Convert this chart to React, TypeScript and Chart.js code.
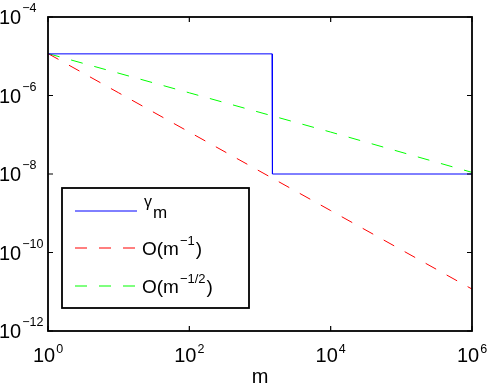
import React, { useEffect, useRef } from "react";
import { Chart, registerables } from "chart.js";

Chart.register(...registerables);

// ---- data ----
const gammaX = [1, 1480, 1500, 1e6];
const gammaY = [1.15e-5, 1.15e-5, 1e-8, 1e-8];
const invX = [1, 10, 100, 1000, 1e4, 1e5, 1e6];
const invY = [1.17e-5, 1.17e-6, 1.17e-7, 1.17e-8, 1.17e-9, 1.17e-10, 1.17e-11];
const invSqrtX = [1, 100, 1e4, 1e6];
const invSqrtY = [1.17e-5, 1.17e-6, 1.17e-7, 1.1e-8];

const xTickExps = [0, 2, 4, 6];
const yTickExps = [-4, -6, -8, -10, -12];
const xLabel = "m";

const FONT = "'Liberation Sans', Arial, Helvetica, sans-serif";

function pts(xs: number[], ys: number[]) {
  return xs.map((x, i) => ({ x, y: ys[i] }));
}

function supText(e: number) {
  return e < 0 ? "\u2212" + String(-e) : String(e);
}

const overlay = {
  id: "matlabOverlay",
  afterDraw(chart: any) {
    const ctx = chart.ctx as CanvasRenderingContext2D;
    const a = chart.chartArea;
    const xs = chart.scales.x;
    const ys = chart.scales.y;
    ctx.save();
    ctx.strokeStyle = "#000";
    ctx.fillStyle = "#000";
    // box
    ctx.lineWidth = 1.8;
    ctx.strokeRect(a.left, a.top, a.right - a.left, a.bottom - a.top);
    // ticks
    ctx.lineWidth = 1.2;
    const tl = 5;
    ctx.beginPath();
    xTickExps.forEach((e) => {
      const px = xs.getPixelForValue(Math.pow(10, e));
      ctx.moveTo(px, a.bottom);
      ctx.lineTo(px, a.bottom - tl);
      ctx.moveTo(px, a.top);
      ctx.lineTo(px, a.top + tl);
    });
    yTickExps.forEach((e) => {
      const py = ys.getPixelForValue(Math.pow(10, e));
      ctx.moveTo(a.left, py);
      ctx.lineTo(a.left + tl, py);
      ctx.moveTo(a.right, py);
      ctx.lineTo(a.right - tl, py);
    });
    ctx.stroke();

    // tick labels
    const baseFont = `20px ${FONT}`;
    const supFont = `12.5px ${FONT}`;
    ctx.textBaseline = "alphabetic";
    ctx.textAlign = "left";
    xTickExps.forEach((e) => {
      const px = xs.getPixelForValue(Math.pow(10, e));
      ctx.font = baseFont;
      const w1 = ctx.measureText("10").width;
      ctx.font = supFont;
      const w2 = ctx.measureText(supText(e)).width;
      const x0 = px - (w1 + 1 + w2) / 2;
      ctx.font = baseFont;
      ctx.fillText("10", x0, a.bottom + 31);
      ctx.font = supFont;
      ctx.fillText(supText(e), x0 + w1 + 1, a.bottom + 22);
    });
    yTickExps.forEach((e) => {
      const py = ys.getPixelForValue(Math.pow(10, e));
      ctx.font = baseFont;
      const w1 = ctx.measureText("10").width;
      ctx.fillText("10", -1, py + 7);
      ctx.font = supFont;
      ctx.fillText(supText(e), -1 + w1 + 1, py - 5);
    });

    // x label
    ctx.font = baseFont;
    ctx.textAlign = "center";
    ctx.fillText(xLabel, (a.left + a.right) / 2, a.bottom + 52);

    // legend
    const lx = 62, ly = 188, lw = 187, lh = 120;
    ctx.fillStyle = "#fff";
    ctx.fillRect(lx, ly, lw, lh);
    ctx.strokeStyle = "#000";
    ctx.lineWidth = 1.8;
    ctx.strokeRect(lx, ly, lw, lh);
    const items = chart.data.datasets;
    const rows = [211, 248, 286];
    ctx.textAlign = "left";
    items.forEach((ds: any, i: number) => {
      const y = rows[i];
      ctx.strokeStyle = ds.borderColor;
      ctx.lineWidth = 1;
      ctx.setLineDash(ds.borderDash || []);
      ctx.beginPath();
      ctx.moveTo(75, y);
      ctx.lineTo(137, y);
      ctx.stroke();
      ctx.setLineDash([]);
    });
    ctx.fillStyle = "#000";
    // gamma_m
    ctx.font = `16px ${FONT}`;
    ctx.fillText("\u03b3", 144, 207);
    const gw = ctx.measureText("\u03b3").width;
    ctx.font = `17px ${FONT}`;
    ctx.fillText("m", 144 + gw + 1, 218);
    // O(m^-1) and O(m^-1/2)
    const drawO = (y: number, sup: string) => {
      ctx.font = `19px ${FONT}`;
      const a1 = "O(m";
      ctx.fillText(a1, 142, y + 7);
      const w = ctx.measureText(a1).width;
      ctx.font = `13px ${FONT}`;
      ctx.fillText(sup, 142 + w + 1, y - 3);
      const ws = ctx.measureText(sup).width;
      ctx.font = `19px ${FONT}`;
      ctx.fillText(")", 142 + w + 2 + ws, y + 7);
    };
    drawO(rows[1], "\u22121");
    drawO(rows[2], "\u22121/2");
    ctx.restore();
  },
};

export default function App() {
  const ref = useRef<HTMLCanvasElement>(null);
  useEffect(() => {
    if (!ref.current) return;
    const chart = new Chart(ref.current, {
      type: "line",
      data: {
        datasets: [
          {
            label: "gamma_m",
            data: pts(gammaX, gammaY),
            borderColor: "#0000ff",
            borderWidth: 1,
            pointRadius: 0,
            tension: 0,
          },
          {
            label: "O(m^-1)",
            data: pts(invX, invY),
            borderColor: "#ff0000",
            borderWidth: 1,
            borderDash: [12, 12],
            pointRadius: 0,
            tension: 0,
          },
          {
            label: "O(m^-1/2)",
            data: pts(invSqrtX, invSqrtY),
            borderColor: "#00ff00",
            borderWidth: 1,
            borderDash: [12, 12],
            pointRadius: 0,
            tension: 0,
          },
        ],
      },
      options: {
        animation: false,
        responsive: false,
        events: [],
        layout: { padding: { left: 48, top: 17, right: 16, bottom: 57 } },
        plugins: { legend: { display: false }, tooltip: { enabled: false } },
        scales: {
          x: { type: "logarithmic", min: 1, max: 1e6, display: false },
          y: { type: "logarithmic", min: 1e-12, max: 1e-4, display: false },
        },
      },
      plugins: [overlay],
    });
    return () => chart.destroy();
  }, []);
  return (
    <div style={{ position: "fixed", left: 0, top: 0, width: 488, height: 388, background: "#fff" }}>
      <canvas ref={ref} width={488} height={388} />
    </div>
  );
}
